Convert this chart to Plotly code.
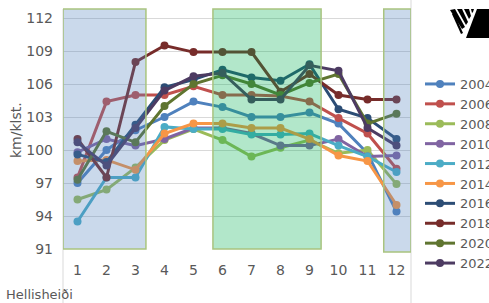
import plotly.graph_objects as go

categories = list(range(1, 13))
years = ["2004", "2006", "2008", "2010", "2012", "2014", "2016", "2018", "2020", "2022"]

y2004 = [97.0, 100.0, 101.8, 103.0, 104.4, 103.9, 103.0, 103.0, 103.4, 102.4, 99.7, 94.4]
y2006 = [97.5, 104.4, 105.0, 105.0, 105.8, 105.0, 105.0, 104.9, 104.4, 102.9, 101.5, 98.3]
y2008 = [95.5, 96.4, 98.4, 100.9, 101.9, 100.9, 99.4, 100.2, 100.9, 99.7, 100.0, 96.9]
y2010 = [99.8, 101.0, 100.4, 101.0, 102.0, 102.0, 101.5, 100.4, 100.4, 101.0, 99.4, 99.5]
y2012 = [93.5, 97.5, 97.5, 102.1, 101.9, 101.9, 101.4, 101.4, 101.5, 100.4, 99.4, 98.0]
y2014 = [99.0, 99.1, 98.2, 101.5, 102.4, 102.4, 102.0, 102.0, 101.0, 99.5, 99.0, 95.0]
y2016 = [99.6, 98.9, 102.3, 105.7, 106.4, 107.3, 106.6, 106.3, 107.8, 103.7, 102.9, 101.0]
y2018 = [101.0, 97.5, 108.0, 109.5, 108.9, 108.9, 108.9, 105.3, 106.9, 105.0, 104.6, 104.6]
y2020 = [97.3, 101.7, 100.7, 104.0, 106.0, 106.8, 106.0, 105.0, 106.1, 106.9, 102.4, 103.3]
y2022 = [100.7, 98.6, 102.0, 105.4, 106.7, 107.0, 104.6, 104.6, 107.7, 107.2, 102.0, 100.4]

series = [y2004, y2006, y2008, y2010, y2012, y2014, y2016, y2018, y2020, y2022]
colors = ["#4F81BD", "#C0504D", "#9BBB59", "#8064A2", "#4BACC6",
          "#F79646", "#2C4D75", "#772C2A", "#5F7530", "#4D3B62"]

yticks = [91, 94, 97, 100, 103, 106, 109, 112]

# figure geometry (pixels)
W, H = 489, 303
L, R, T, B = 63, 78, 9, 54
PW, PH = W - L - R, H - T - B


def px(x):
    return (x - L) / PW


def py(y):
    return (H - B - y) / PH


fig = go.Figure()
for name, vals, col in zip(years, series, colors):
    fig.add_trace(go.Scatter(
        x=categories, y=vals, name=name, mode="lines+markers",
        line=dict(color=col, width=3),
        marker=dict(color=col, size=8),
    ))

font = "DejaVu Sans"
grey = "#595959"

shapes = []
# gray frame lines
shapes.append(dict(type="line", xref="paper", yref="paper", x0=0, x1=0,
                   y0=py(303), y1=1, line=dict(color="#d9d9d9", width=1), layer="below"))
shapes.append(dict(type="line", xref="paper", yref="paper", x0=px(411), x1=px(411),
                   y0=py(303), y1=py(0), line=dict(color="#d9d9d9", width=1), layer="below"))
# shaded regions
regions = [
    (0.5, 3.36, 0, "#4F81BD"),
    (5.67, 9.40, 0, "#00B050"),
    (11.56, 12.5, py(252), "#4F81BD"),
]
for x0, x1, yb, c in regions:
    shapes.append(dict(type="rect", xref="x", yref="paper", x0=x0, x1=x1, y0=yb, y1=1,
                       fillcolor=c, opacity=0.3, line=dict(width=0), layer="above"))
    shapes.append(dict(type="rect", xref="x", yref="paper", x0=x0, x1=x1, y0=yb, y1=1,
                       fillcolor="rgba(0,0,0,0)", line=dict(color="#A9C47F", width=1.5),
                       layer="above"))

# logo approximation (top right)
def poly(pts):
    d = "M " + " L ".join(f"{px(a):.4f},{py(b):.4f}" for a, b in pts) + " Z"
    return dict(type="path", xref="paper", yref="paper", path=d,
                fillcolor="black", line=dict(width=0), layer="above")

shapes.append(poly([(477, 9), (492, 9), (492, 38), (466, 38)]))
shapes.append(poly([(450, 10), (455, 9), (465, 27), (462, 29)]))
shapes.append(poly([(457, 9), (462, 9), (468, 22), (466, 25)]))
shapes.append(poly([(464, 9), (469, 9), (471, 16), (469, 19)]))
shapes.append(poly([(471, 9), (474, 9), (473, 12), (472, 13)]))
shapes.append(poly([(452, 14), (454, 13), (463, 33), (461, 34)]))

fig.update_layout(
    width=W, height=H,
    margin=dict(l=L, r=R, t=T, b=B, autoexpand=False),
    paper_bgcolor="white", plot_bgcolor="white",
    font=dict(family=font, color=grey, size=14),
    showlegend=True,
    legend=dict(x=px(420), xanchor="left", y=py(69), yanchor="top",
                font=dict(family=font, size=13, color=grey),
                bgcolor="rgba(0,0,0,0)", borderwidth=0),
    xaxis=dict(range=[0.5, 12.5], tickmode="array", tickvals=categories,
               ticktext=[str(c) for c in categories], showgrid=False,
               zeroline=False, showline=False, ticks="",
               ticklabelstandoff=11, tickfont=dict(size=14, color=grey)),
    yaxis=dict(range=[91, 91 + PH / 11.0], tickmode="array", tickvals=yticks,
               showgrid=True, gridcolor="#d9d9d9", gridwidth=1,
               zeroline=False, showline=False, ticks="",
               ticklabelstandoff=9, tickfont=dict(size=14, color=grey)),
    shapes=shapes,
    annotations=[
        dict(text="km/klst.", xref="paper", yref="paper", x=px(16), y=py(130),
             xanchor="center", yanchor="middle", textangle=-90, showarrow=False,
             font=dict(family=font, size=14, color=grey)),
        dict(text="Hellisheiði", xref="paper", yref="paper", x=px(4), y=py(294),
             xanchor="left", yanchor="middle", showarrow=False,
             font=dict(family=font, size=13, color=grey)),
    ],
)

fig.write_html("out.html", config={"displayModeBar": False},
               post_script="document.body.style.margin='0';document.body.style.overflow='hidden';")
